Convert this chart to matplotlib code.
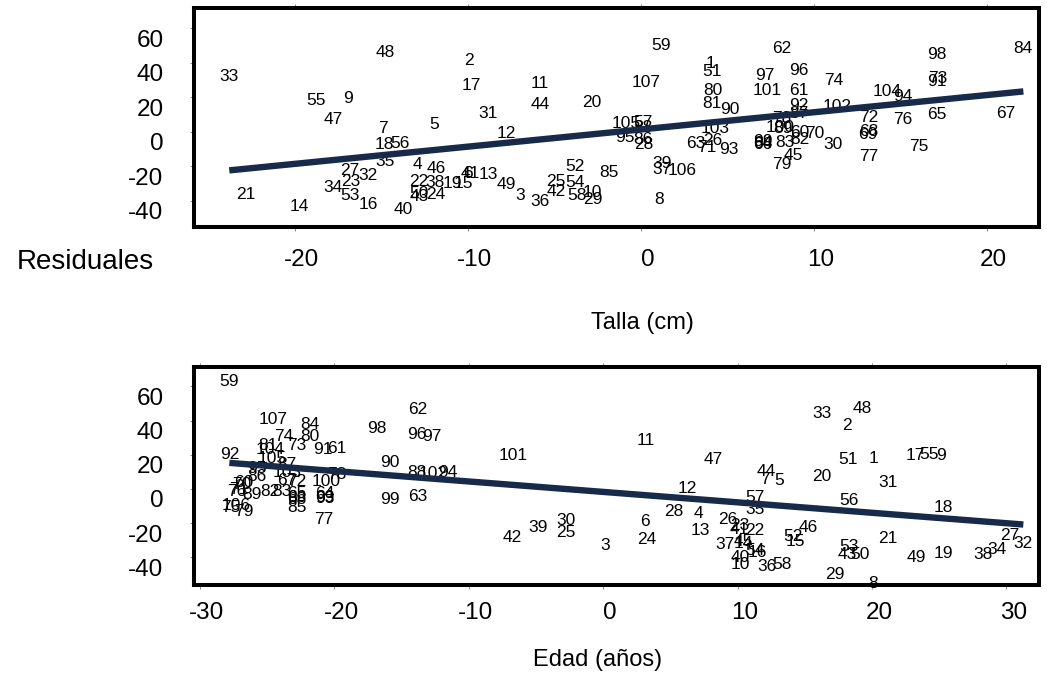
import numpy as np
import matplotlib.pyplot as plt
from matplotlib.transforms import ScaledTranslation

plt.rcParams['font.family'] = ['Liberation Sans', 'DejaVu Sans']

# case numbers used as point labels
obs = list(range(1, 108))

# partial residuals, weight vs talla (case order 1..107)
talla_x = [4.01, -9.93, -6.94, -12.92, -11.94, -10.01, -14.92, 1.06, -16.91, -2.78,
           -5.82, -7.79, -8.81, -19.75, -10.26, -15.75, -9.81, -14.83, -10.90, -2.83,
           -22.83, -12.86, -16.76, -11.84, -4.90, 4.14, -16.81, 0.15, -2.78, 11.14,
           -8.85, -15.79, -23.79, -17.81, -14.79, -5.82, 1.21, -11.90, 1.21, -13.75,
           -9.83, -4.90, -12.81, -5.82, 8.83, -11.80, -17.78, -14.79, -7.79, -12.81,
           4.11, -3.80, -16.81, -3.80, -18.78, -13.92, 0.15, -3.70, 1.17, 9.21,
           9.16, 8.16, 3.18, 7.07, 17.15, 7.07, 21.13, 13.16, 13.16, 10.08,
           3.85, 13.16, 17.15, 11.14, 16.11, 15.15, 13.16, 8.16, 8.16, 4.16,
           4.11, 9.21, 8.35, 22.13, -1.82, 0.15, 9.16, 0.15, 8.23, 5.16,
           17.15, 9.16, 5.07, 15.15, -0.91, 9.16, 7.19, 17.15, 7.07, 8.06,
           7.29, 11.34, 4.30, 14.23, -0.81, 2.37, 0.31]
talla_y = [39.7, 41.2, -37.3, -19.3, 3.9, -24.1, 2.0, -39.1, 19.4, -35.4,
           27.7, -0.9, -25.1, -43.5, -29.9, -42.5, 27.1, -7.7, -29.9, 16.8,
           -36.7, -29.0, -29.0, -36.7, -29.0, -5.2, -22.8, -7.7, -39.6, -7.3,
           10.7, -25.7, 31.9, -32.3, -17.4, -40.6, -22.2, -29.6, -18.7, -45.0,
           -24.1, -34.8, -37.7, 15.9, -13.9, -21.6, 7.2, 45.9, -30.9, -35.8,
           34.8, -19.9, -37.3, -29.6, 18.4, -6.7, 5.5, -37.3, 50.3, -0.2,
           23.8, 48.4, -6.7, -6.6, 9.7, -7.7, 10.7, 0.4, -1.9, -1.3,
           -9.1, 8.4, 31.0, 30.0, -8.3, 6.8, -14.5, 7.8, -19.3, 23.8,
           16.1, -4.8, -6.4, 48.4, -23.8, -4.8, 10.3, 2.6, 2.1, 13.0,
           29.4, 15.5, -10.2, 20.3, -3.3, 35.8, 32.5, 44.9, -5.4, 2.6,
           23.8, 14.5, 2.0, 23.6, 4.9, -22.6, 28.4]
talla_slope, talla_intercept = 0.998, 1.3

# partial residuals, weight vs edad (case order 1..107)
edad_x = [20.10, 18.13, 0.14, 7.08, 13.11, 3.12, 12.05, 20.10, 25.12, 10.19,
          3.19, 6.26, 7.26, 10.41, 14.28, 11.45, 23.21, 25.31, 25.31, 16.26,
          21.18, 11.30, 10.19, 3.24, -2.78, 9.24, 30.22, 5.22, 17.25, -2.78,
          21.18, 31.26, 16.26, 29.29, 11.30, 12.17, 9.07, 28.24, -4.82, 10.19,
          10.13, -6.76, 18.17, 12.17, 10.41, 15.27, 8.20, 19.29, 23.28, 19.11,
          18.24, 14.15, 18.30, 11.30, 24.27, 18.30, 11.30, 13.29, -27.81, -26.77,
          -19.82, -13.79, -13.79, -20.69, -22.78, -22.78, -23.52, -22.78, -20.69, -26.90,
          -27.09, -22.78, -22.80, -23.79, -27.69, -27.24, -20.82, -19.82, -26.77, -21.81,
          -24.91, -24.78, -23.91, -21.81, -22.80, -25.77, -23.54, -13.87, -26.15, -15.86,
          -20.82, -27.81, -20.69, -11.54, -25.77, -13.87, -12.75, -16.85, -15.86, -20.62,
          -6.68, -12.66, -23.54, -24.78, -24.66, -27.31, -24.58]
edad_y = [18.0, 37.4, -33.3, -14.2, 4.9, -19.1, 5.8, -55.1, 19.3, -43.9,
          28.2, 0.4, -24.0, -31.6, -30.8, -37.4, 19.5, -10.9, -37.6, 7.2,
          -29.2, -24.4, -21.5, -29.8, -25.6, -18.1, -27.3, -13.3, -49.9, -18.5,
          3.9, -31.8, 44.3, -35.1, -11.9, -45.4, -32.2, -38.2, -22.4, -40.2,
          -23.4, -28.5, -38.2, 10.5, -30.4, -22.4, 17.0, 47.2, -40.2, -38.2,
          17.4, -27.9, -33.7, -35.7, 20.3, -7.0, -4.9, -43.9, 62.7, 3.9,
          23.8, 46.6, -4.5, -2.9, -2.9, -4.7, 4.7, -6.4, -4.7, 2.6,
          -0.3, 4.1, 25.3, 30.6, -10.8, -1.2, -18.1, 8.2, -13.3, 30.6,
          25.7, -1.6, -1.6, 37.8, -10.9, 7.2, 14.4, 9.5, -3.1, 15.4,
          22.8, 20.3, -5.3, 9.9, 12.1, 32.0, 30.6, 35.1, -6.4, 4.3,
          19.3, 9.2, 9.8, 22.8, 18.0, -9.9, 40.9]
edad_slope, edad_intercept = -0.61, -1.7

yticks = [-40, -20, 0, 20, 40, 60]
talla_xticks = [-20, -10, 0, 10, 20]
edad_xticks = [-30, -20, -10, 0, 10, 20, 30]

LINE_COLOR = '#172a4a'


def draw_panel(ax, x, y, slope, intercept, xlim, ylim, xticks, xpad):
    for n, xi, yi in zip(obs, x, y):
        ax.text(xi, yi, str(n), ha='center', va='center', fontsize=12.5,
                color='black', clip_on=False, zorder=2)
    xs = np.array([min(x), max(x)])
    ax.plot(xs, intercept + slope * xs, color=LINE_COLOR, lw=4.6,
            solid_capstyle='butt', zorder=3)

    ax.set_xlim(*xlim)
    ax.set_ylim(*ylim)
    ax.set_xticks(xticks)
    ax.set_yticks(yticks)
    ax.set_xticklabels([str(t) for t in xticks])
    ax.set_yticklabels([str(t) for t in yticks])
    for side in ['left', 'right', 'top', 'bottom']:
        ax.spines[side].set_linewidth(2.9)
        ax.spines[side].set_color('black')
    ax.tick_params(axis='both', direction='out', length=3, width=0.6,
                   color='#777777', labelsize=17.5, top=True, right=False)
    ax.tick_params(axis='x', pad=xpad)
    ax.tick_params(axis='y', pad=19)

    # labels sit a little off their tick marks
    dx = ScaledTranslation(0.07, 0, ax.figure.dpi_scale_trans)
    dy = ScaledTranslation(0, -0.10, ax.figure.dpi_scale_trans)
    for lab in ax.get_xticklabels():
        lab.set_transform(lab.get_transform() + dx)
    for lab in ax.get_yticklabels():
        lab.set_transform(lab.get_transform() + dy)


fig = plt.figure(figsize=(10.47, 6.78), dpi=100)
ax_top = fig.add_axes([0.1853, 0.6652, 0.8070, 0.3230])
ax_bot = fig.add_axes([0.1853, 0.1372, 0.8070, 0.3215])

draw_panel(ax_top, talla_x, talla_y, talla_slope, talla_intercept,
           (-25.83, 23.03), (-55.3, 71.8), talla_xticks, 13)
draw_panel(ax_bot, edad_x, edad_y, edad_slope, edad_intercept,
           (-30.44, 32.42), (-56.1, 71.3), edad_xticks, 9)

fig.text(0.0812, 0.6136, 'Residuales', ha='center', va='center', fontsize=20)
fig.text(0.614, 0.5236, 'Talla (cm)', ha='center', va='center', fontsize=17)
fig.text(0.571, 0.0265, 'Edad (años)', ha='center', va='center', fontsize=17)

fig.savefig('out.png', dpi=100)
